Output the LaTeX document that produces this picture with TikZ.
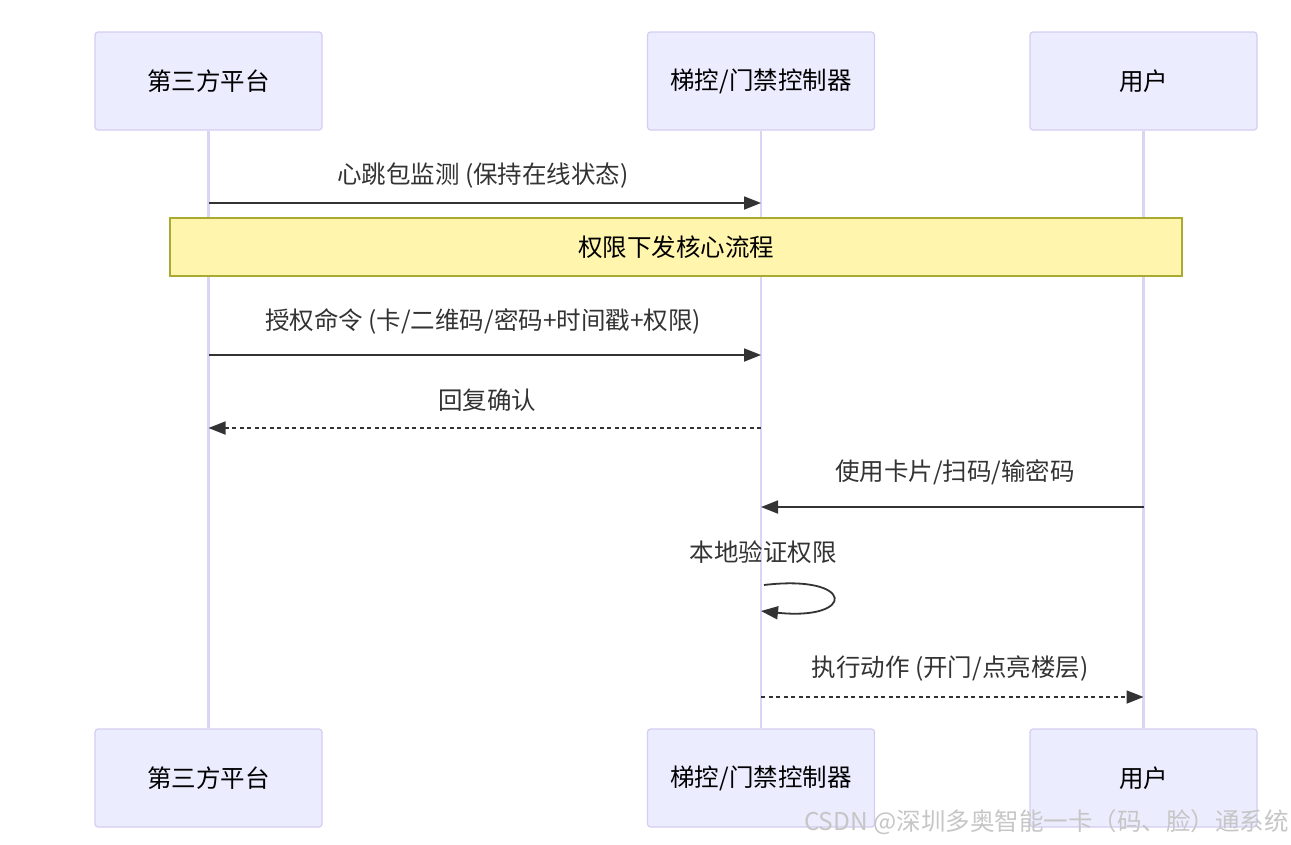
\documentclass[tikz,border=0pt]{standalone}
\usepackage{fontspec}
\setmainfont{Noto Sans CJK SC}
\usetikzlibrary{arrows.meta, positioning, calc}
\definecolor{cActorFill}{HTML}{ECECFF}
\definecolor{cActorLine}{HTML}{D5CCF2}
\definecolor{cLife}{HTML}{DCD4F6}
\definecolor{cNoteFill}{HTML}{FFF5AD}
\definecolor{cNoteLine}{HTML}{AAAA33}
\definecolor{cMsg}{HTML}{333333}
\tikzset{
	actor/.style   ={rectangle, rounded corners=3pt, draw=cActorLine, line width=1.2pt, fill=cActorFill, minimum width=227pt, minimum height=98pt, inner sep=0pt, font=\fontsize{24.5}{29}\selectfont},
	lifeline/.style={draw=cLife, line width=2.8pt},
	notebox/.style ={rectangle, draw=cNoteLine, line width=1.4pt, fill=cNoteFill, minimum width=1012pt, minimum height=58pt, inner sep=0pt, font=\fontsize{24.5}{29}\selectfont},
	lbl/.style     ={inner sep=0pt, text=cMsg, font=\fontsize{24.5}{29}\selectfont},
	msg/.style     ={draw=cMsg, line width=1.8pt, -{Triangle[length=17pt, width=13pt]}},
	reply/.style   ={msg, dash pattern=on 4pt off 3.5pt},
}
\begin{document}
\begin{tikzpicture}[x=1pt, y=-1pt]
	\useasboundingbox (0,0) rectangle (1291,844);
	% actors
	\node[actor] (plat)  at (208.5,81)  {第三方平台};
	\node[actor] (ctrl)  at (761,81)    {梯控/门禁控制器};
	\node[actor] (user)  at (1143.5,81) {用户};
	\node[actor] (platB) at (208.5,778) {第三方平台};
	\node[actor] (ctrlB) at (761,778)   {梯控/门禁控制器};
	\node[actor] (userB) at (1143.5,778) {用户};
	% lifelines
	\draw[lifeline] (plat.south) -- (platB.north);
	\draw[lifeline] (ctrl.south) -- (ctrlB.north);
	\draw[lifeline] (user.south) -- (userB.north);
	% note
	\node[notebox] (core) at (676,247) {权限下发核心流程};
	% messages
	\node[lbl] (t1) at (483,176) {心跳包监测 (保持在线状态)};
	\draw[msg] (plat |- 0,203) -- (ctrl |- 0,203);
	\node[lbl] (t2) at (483,321) {授权命令 (卡/二维码/密码+时间戳+权限)};
	\draw[msg] (plat |- 0,355) -- (ctrl |- 0,355);
	\node[lbl] (t3) at (487,400) {回复确认};
	\draw[reply] (ctrl |- 0,428) -- (plat |- 0,428);
	\node[lbl] (t4) at (955,472) {使用卡片/扫码/输密码};
	\draw[msg] (user |- 0,507) -- (ctrl |- 0,507);
	\node[lbl] (t5) at (763,552) {本地验证权限};
	\draw[msg] ($(ctrl |- 0,585)+(3,0)$) .. controls (856,574) and (856,621) .. (ctrl |- 0,611);
	\node[lbl] (t6) at (950,669) {执行动作 (开门/点亮楼层)};
	\draw[reply] (ctrl |- 0,697) -- (user |- 0,697);
	% watermark
	\node[lbl, text=gray!45, anchor=east] (mark) at (1289,822) {CSDN @深圳多奥智能一卡（码、脸）通系统};
\end{tikzpicture}
\end{document}
